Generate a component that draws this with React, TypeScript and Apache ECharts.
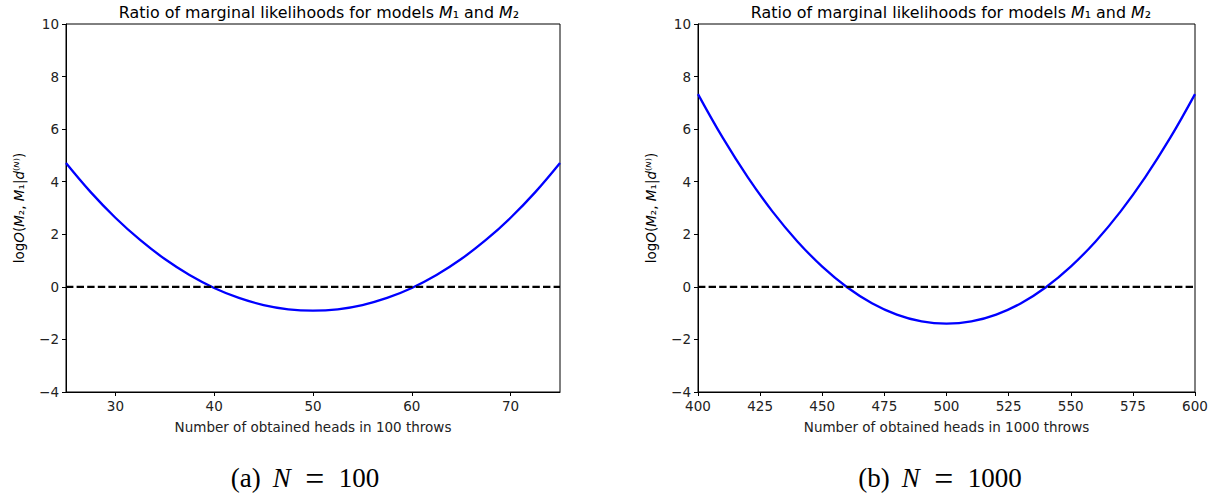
import React, { useEffect, useRef } from "react";
import * as echarts from "echarts";

// log10 posterior odds of M2 (uniform prior on p) against M1 (fair coin)
const heads100 = [25, 27.5, 30, 32.5, 35, 37.5, 40, 42.5, 45, 47.5, 50, 52.5, 55, 57.5, 60, 62.5, 65, 67.5, 70, 72.5, 75];
const logOdds100 = [4.712, 3.604, 2.629, 1.783, 1.058, 0.451, -0.041, -0.421, -0.691, -0.853, -0.906, -0.853, -0.691, -0.421, -0.041, 0.451, 1.058, 1.783, 2.629, 3.604, 4.712];

const heads1000 = [400, 410, 420, 430, 440, 450, 460, 470, 480, 490, 500, 510, 520, 530, 540, 550, 560, 570, 580, 590, 600];
const logOdds1000 = [7.334, 5.665, 4.175, 2.863, 1.729, 0.771, -0.013, -0.621, -1.055, -1.316, -1.402, -1.316, -1.055, -0.621, -0.013, 0.771, 1.729, 2.863, 4.175, 5.665, 7.334];

const ticks100 = [30, 40, 50, 60, 70];

const SANS = "DejaVu Sans";
const SERIF = "Liberation Serif";
const FS = 13.5;

const minus = (v: number) => String(v).replace("-", "\u2212");

const mk = (family: string, size: number) => ({
  n: { fontFamily: family, fontSize: size, fontWeight: "normal", color: "#000" },
  i: { fontFamily: family, fontSize: size, fontWeight: "normal", fontStyle: "italic", color: "#000" },
  g: { fontFamily: family, fontSize: size, fontWeight: "normal", color: "#000", width: 12 },
  e: { fontFamily: family, fontSize: size * 1.25, fontWeight: "normal", color: "#000", width: 48, align: "center" },
});
const titleRich = mk(SANS, 15.9);
const captionRich = mk(SERIF, 27);
const yNameRich = mk(SANS, FS);

const titleText = "{n|Ratio of marginal likelihoods for models }{i|M}{n|₁ and }{i|M}{n|₂}";
const yName = "{n|log}{i|O}{n|(}{i|M}{n|₂, }{i|M}{n|₁|}{i|d}{n|⁽}{i|ᴺ}{n|⁾)}";

export default function App() {
  const ref = useRef<HTMLDivElement>(null);

  useEffect(() => {
    document.body.style.margin = "0";
    const chart = echarts.init(ref.current!, null, { renderer: "svg" });

    const grids = [
      { left: 66, top: 24, width: 494, height: 368 },
      { left: 698, top: 24, width: 497, height: 368 },
    ];

    const axisCommon = {
      axisLine: { show: true, onZero: false, lineStyle: { color: "#000", width: 1 } },
      axisTick: { show: true, length: 4, lineStyle: { color: "#000", width: 1 } },
      splitLine: { show: false },
      axisLabel: { color: "#222", fontFamily: SANS, fontSize: FS, margin: 7 },
    };
    const xName = { fontFamily: SANS, fontSize: FS, color: "#222" };

    const option: any = {
      animation: false,
      backgroundColor: "#fff",
      title: [
        { text: titleText, left: 314, top: -1, textAlign: "center", textStyle: { rich: titleRich } },
        { text: titleText, left: 946, top: -1, textAlign: "center", textStyle: { rich: titleRich } },
        { text: "{n|(a)}{g| }{i|N}{e|=}{n|100}", left: 300, top: 456, textAlign: "center", textStyle: { rich: captionRich } },
        { text: "{n|(b)}{g| }{i|N}{e|=}{n|1000}", left: 935, top: 456, textAlign: "center", textStyle: { rich: captionRich } },
      ],
      grid: grids.map((g) => ({ ...g, show: true, borderColor: "#000", borderWidth: 1, backgroundColor: "transparent" })),
      xAxis: [
        {
          ...axisCommon,
          type: "value",
          gridIndex: 0,
          min: 25,
          max: 75,
          axisTick: { ...axisCommon.axisTick, customValues: ticks100 },
          axisLabel: { ...axisCommon.axisLabel, customValues: ticks100 },
          name: "Number of obtained heads in 100 throws",
          nameLocation: "middle",
          nameGap: 28,
          nameTextStyle: xName,
        },
        {
          ...axisCommon,
          type: "value",
          gridIndex: 1,
          min: 400,
          max: 600,
          interval: 25,
          name: "Number of obtained heads in 1000 throws",
          nameLocation: "middle",
          nameGap: 28,
          nameTextStyle: xName,
        },
      ],
      yAxis: [0, 1].map((i) => ({
        ...axisCommon,
        type: "value",
        gridIndex: i,
        min: -4,
        max: 10,
        interval: 2,
        axisLabel: { ...axisCommon.axisLabel, formatter: (v: number) => minus(v) },
        name: yName,
        nameLocation: "middle",
        nameRotate: 90,
        nameGap: 40,
        nameTextStyle: { rich: yNameRich },
      })),
      series: [
        {
          type: "line",
          xAxisIndex: 0,
          yAxisIndex: 0,
          data: heads100.map((x, k) => [x, logOdds100[k]]),
          showSymbol: false,
          smooth: 0.4,
          lineStyle: { color: "#0000ff", width: 2.3 },
        },
        {
          type: "line",
          xAxisIndex: 0,
          yAxisIndex: 0,
          data: [[heads100[0], 0], [heads100[heads100.length - 1], 0]],
          showSymbol: false,
          lineStyle: { color: "#000", width: 2.3, type: [7.4, 3.2] },
        },
        {
          type: "line",
          xAxisIndex: 1,
          yAxisIndex: 1,
          data: heads1000.map((x, k) => [x, logOdds1000[k]]),
          showSymbol: false,
          smooth: 0.4,
          lineStyle: { color: "#0000ff", width: 2.3 },
        },
        {
          type: "line",
          xAxisIndex: 1,
          yAxisIndex: 1,
          data: [[heads1000[0], 0], [heads1000[heads1000.length - 1], 0]],
          showSymbol: false,
          lineStyle: { color: "#000", width: 2.3, type: [7.4, 3.2] },
        },
      ],
    };
    chart.setOption(option);
    return () => chart.dispose();
  }, []);

  return <div ref={ref} style={{ width: 1219, height: 495 }} />;
}
